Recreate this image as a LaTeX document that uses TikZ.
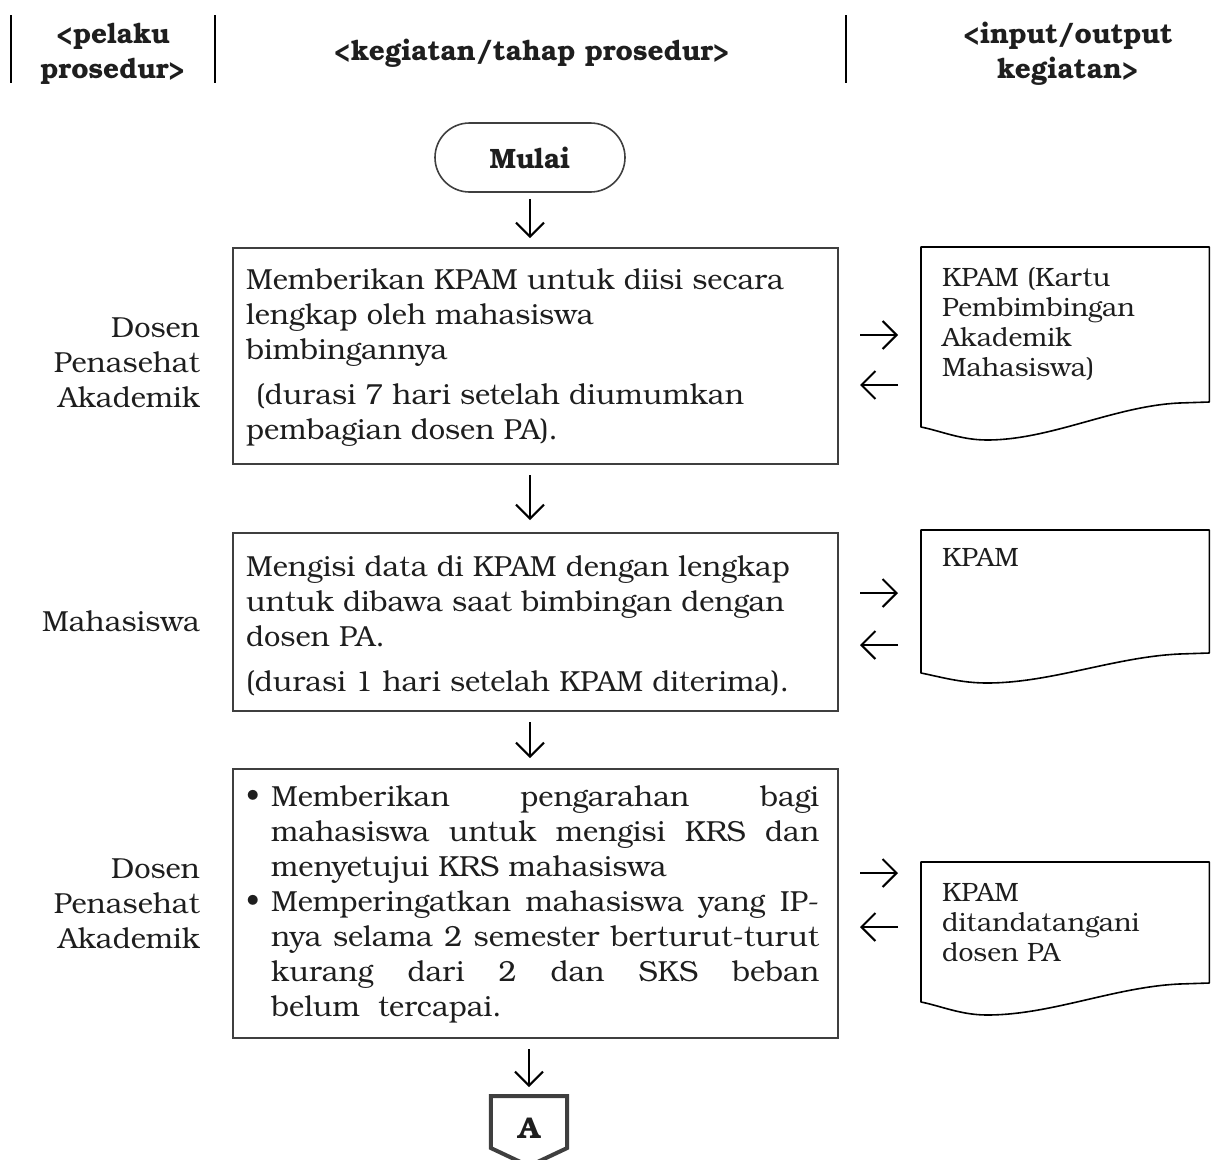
\documentclass[tikz,border=0pt]{standalone}
\usepackage{fontspec}
\setmainfont{TeX Gyre Bonum}
\usetikzlibrary{arrows.meta,shapes.misc,calc}
\definecolor{boxc}{HTML}{3F3F3F}
\definecolor{txtc}{HTML}{1E1E1E}
\newcommand\docoutline[4]{%
  \draw[docline] (#1.north west) -- (#1.north east) -- ($(#1.north east)+(0,#2)$)
   -- ($(#1.north east)+(-30,#2+1)$)
   .. controls ($(#1.north east)+(-95,#2+4)$) and ($(#1.north west)+(130,#4)$) .. ($(#1.north west)+(66,#4)$)
   .. controls ($(#1.north west)+(40,#4)$) and ($(#1.north west)+(20,#3+4)$) .. ($(#1.north west)+(0,#3)$)
   -- cycle;}
\begin{document}
\begin{tikzpicture}[x=1pt,y=-1pt,
 mtext/.style={font=\fontsize{29}{35}\selectfont, text=txtc, inner sep=0pt},
 htext/.style={font=\bfseries\fontsize{28}{35}\selectfont, text=txtc, inner sep=0pt},
 dtext/.style={font=\fontsize{26.5}{30}\selectfont, text=txtc, inner sep=0pt},
 procbox/.style={draw=boxc, line width=2pt, rectangle, inner sep=0pt, anchor=north west, minimum width=605pt},
 docbox/.style={rectangle, inner sep=0pt, anchor=north west, minimum width=288pt},
 docline/.style={draw=black, line width=1.6pt, line join=round},
 arr/.style={line width=2pt, -{Straight Barb[length=14pt,width=28pt]}},
 hline/.style={line width=1.5pt, draw=black},
]
\useasboundingbox (0,0) rectangle (1211,1160);

% header
\draw[hline] (11,15) -- (11,83);
\draw[hline] (215,15) -- (215,83);
\draw[hline] (846,15) -- (846,83);
\node[htext, anchor=base] (hp) at (113,43) {\parbox[t]{200pt}{\centering <pelaku\\prosedur>}};
\node[htext, anchor=base] (hk) at (532,60) {<kegiatan/tahap prosedur>};
\node[htext, anchor=base] (hi) at (1068,43) {\parbox[t]{300pt}{\centering <input/output\\kegiatan>}};

% start
\node[draw=boxc, line width=1.6pt, rounded rectangle, minimum width=190pt, minimum height=69pt,
      inner sep=0pt, font=\bfseries\fontsize{28}{35}\selectfont, text=txtc] (mulai) at (530,157.5) {Mulai};

% process boxes
\node[procbox, minimum height=216pt] (b1) at (232,247) {};
\node[procbox, minimum height=178pt] (b2) at (232,532) {};
\node[procbox, minimum height=269pt] (b3) at (232,768) {};

\node[mtext, anchor=base west] (b1t) at (246,289) {\parbox[t]{600pt}{\raggedright Memberikan KPAM untuk diisi secara\\lengkap oleh mahasiswa\\bimbingannya\\[10pt]\hspace*{10pt}(durasi 7 hari setelah diumumkan\\pembagian dosen PA).}};
\node[mtext, anchor=base west] (b2t) at (246,576) {\parbox[t]{600pt}{\raggedright Mengisi data di KPAM dengan lengkap\\untuk dibawa saat bimbingan dengan\\dosen PA.\\[10pt](durasi 1 hari setelah KPAM diterima).}};
\node[mtext, anchor=base west] (b3t) at (246,806) {\parbox[t]{600pt}{\raggedright
 \makebox[25pt][l]{\textbullet}\makebox[548pt][s]{Memberikan pengarahan bagi}\\
 \hspace*{25pt}\makebox[548pt][s]{mahasiswa untuk mengisi KRS dan}\\
 \hspace*{25pt}menyetujui KRS mahasiswa\\
 \makebox[25pt][l]{\textbullet}\makebox[548pt][s]{Memperingatkan mahasiswa yang IP-}\\
 \hspace*{25pt}\makebox[548pt][s]{nya selama 2 semester berturut-turut}\\
 \hspace*{25pt}\makebox[548pt][s]{kurang dari 2 dan SKS beban}\\
 \hspace*{25pt}belum\ \ tercapai.}};

% actors
\node[mtext, anchor=base east] (l1) at (200,337) {\parbox[t]{190pt}{\raggedleft Dosen\\Penasehat\\Akademik}};
\node[mtext, anchor=base east] (l2) at (200,631) {Mahasiswa};
\node[mtext, anchor=base east] (l3) at (200,878) {\parbox[t]{190pt}{\raggedleft Dosen\\Penasehat\\Akademik}};

% documents
\node[docbox, minimum height=193pt] (d1) at (921,247) {};
\docoutline{d1}{155}{180}{193}
\node[dtext, anchor=base west] (d1t) at (942,286) {\parbox[t]{262pt}{\raggedright KPAM (Kartu\\Pembimbingan\\Akademik\\Mahasiswa)}};

\node[docbox, minimum height=153pt] (d2) at (921,530) {};
\docoutline{d2}{123}{143}{153}
\node[dtext, anchor=base west] (d2t) at (942,566) {KPAM};

\node[docbox, minimum height=153pt] (d3) at (921,862) {};
\docoutline{d3}{121}{140}{153}
\node[dtext, anchor=base west] (d3t) at (942,901) {\parbox[t]{262pt}{\raggedright KPAM\\ditandatangani\\dosen PA}};

% off-page connector
\node[font=\bfseries\fontsize{30}{30}\selectfont, text=txtc, minimum width=76pt, minimum height=64pt, inner sep=0pt, anchor=north] (pA) at (529,1096) {A};
\draw[line width=4pt, draw=boxc, line join=miter] (pA.north west) -- (pA.north east) -- ($(pA.north east)+(0,52)$) -- ($(pA.north)+(0,70)$) -- ($(pA.north west)+(0,52)$) -- cycle;

% vertical flow arrows
\draw[arr, shorten <=6pt, shorten >=9pt] (mulai.south) -- (mulai.south |- b1.north);
\draw[arr, shorten <=10pt, shorten >=12pt] (mulai.south |- b1.south) -- (mulai.south |- b2.north);
\draw[arr, shorten <=10pt, shorten >=10pt] (mulai.south |- b2.south) -- (mulai.south |- b3.north);
\draw[arr, shorten <=10pt, shorten >=9pt] (pA.north |- b3.south) -- (pA.north);

% side arrows
\coordinate (a1r) at (0,335); \coordinate (a1l) at (0,385);
\coordinate (a2r) at (0,593); \coordinate (a2l) at (0,645);
\coordinate (a3r) at (0,873); \coordinate (a3l) at (0,927);
\draw[arr, shorten <=21pt, shorten >=23pt] (b1.east |- a1r) -- (d1.west |- a1r);
\draw[arr, shorten <=23pt, shorten >=21pt] (d1.west |- a1l) -- (b1.east |- a1l);
\draw[arr, shorten <=21pt, shorten >=23pt] (b2.east |- a2r) -- (d2.west |- a2r);
\draw[arr, shorten <=23pt, shorten >=21pt] (d2.west |- a2l) -- (b2.east |- a2l);
\draw[arr, shorten <=21pt, shorten >=23pt] (b3.east |- a3r) -- (d3.west |- a3r);
\draw[arr, shorten <=23pt, shorten >=21pt] (d3.west |- a3l) -- (b3.east |- a3l);
\end{tikzpicture}
\end{document}
